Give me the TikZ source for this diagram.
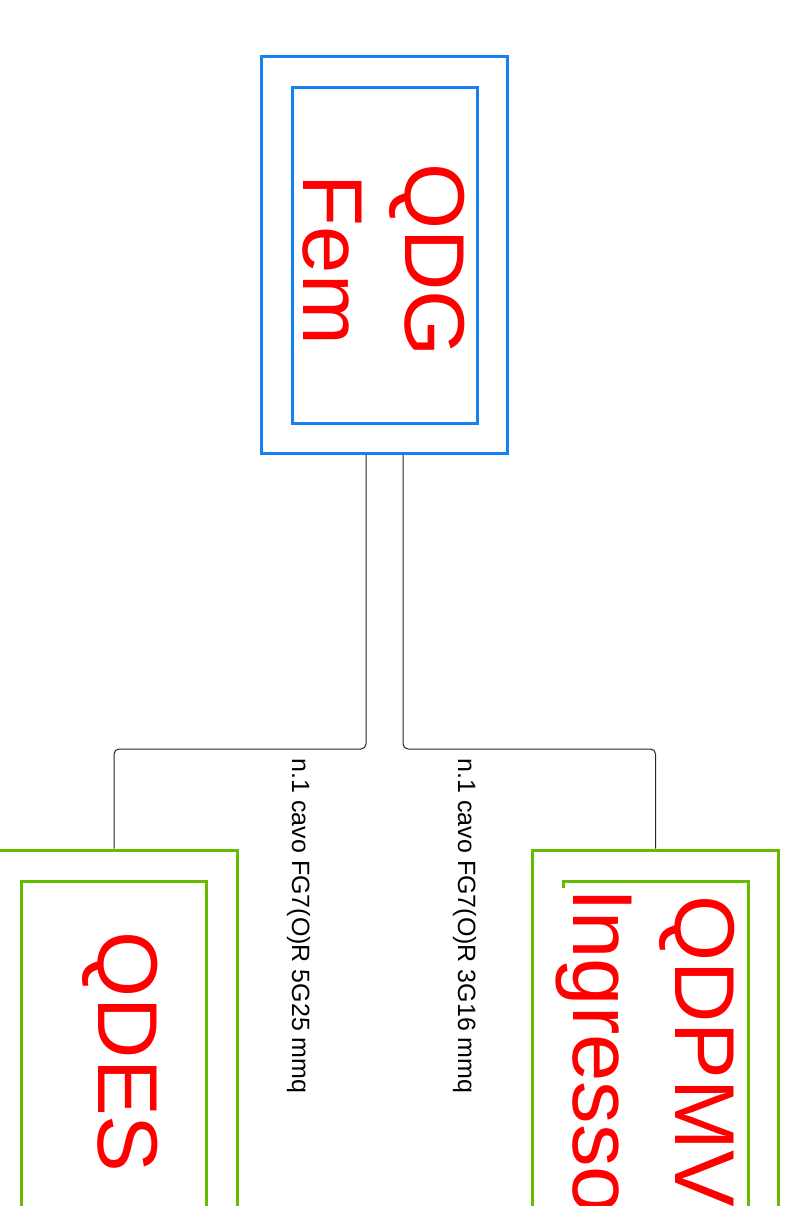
\documentclass[tikz,border=0pt]{standalone}
\usepackage{fontspec}
\setmainfont{Liberation Sans}
\definecolor{qblue}{RGB}{20,130,245}
\definecolor{qgreen}{RGB}{102,187,0}
\begin{document}
\begin{tikzpicture}[x=1pt,y=-1pt,
  outerbox/.style={draw, line width=3pt, minimum width=246pt, minimum height=396pt, inner sep=0pt},
  innerbox/.style={draw, line width=3pt, minimum width=185pt, minimum height=335pt, inner sep=0pt},
  bigtext/.style={text=red, rotate=-90, align=center, font=\fontsize{85}{102}\selectfont, inner sep=0pt},
  cablelabel/.style={rotate=-90, anchor=base west, inner sep=0pt, font=\fontsize{25}{30}\selectfont},
  conn/.style={draw=black!85, line width=1pt, rounded corners=5pt}]
\useasboundingbox (0,0) rectangle (788,1206);
\clip (0,0) rectangle (788,1206);
% top
\node[outerbox, draw=qblue] (qdg) at (384,255) {};
\node[innerbox, draw=qblue] (qdgin) at (384.5,255.5) {};
\node[bigtext] (qdgt) at (384,260) {QDG\\Fem};
% left
\node[outerbox, draw=qgreen] (qdes) at (114,1048) {};
\node[innerbox, draw=qgreen] (qdesin) at (113.5,1048.5) {};
\node[bigtext] (qdest) at (120.5,1052) {QDES};
% right
\node[outerbox, draw=qgreen] (qdpmv) at (655.5,1048) {};
\node[innerbox, draw=qgreen] (qdpmvin) at (656,1048.5) {};
\node[bigtext, fill=white] (qdpmvt) at (645.5,1051) {QDPMV\\Ingresso};
% connectors
\coordinate (s1) at ([xshift=-18pt]qdg.south);
\coordinate (s2) at ([xshift=19pt]qdg.south);
\coordinate (bus) at (0,749);
\draw[conn] (s1) -- (s1 |- bus) -| (qdes.north);
\draw[conn] (s2) -- (s2 |- bus) -| (qdpmv.north);
% labels
\node[cablelabel] (l1) at (292,758.5) {n.1 cavo FG7(O)R 5G25 mmq};
\node[cablelabel] (l2) at (458,758.5) {n.1 cavo FG7(O)R 3G16 mmq};
\end{tikzpicture}
\end{document}
